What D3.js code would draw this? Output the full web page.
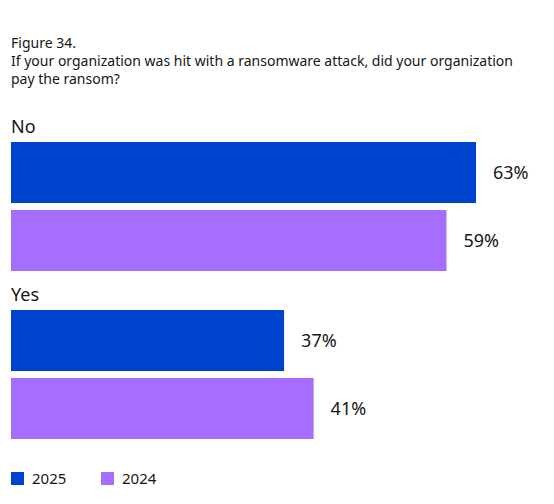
<!DOCTYPE html>
<html>
<head>
<meta charset="utf-8">
<script src="https://cdn.jsdelivr.net/npm/d3@7"></script>
<style>
    body { margin: 0; background: #fff; }
    svg text { font-family: "Noto Sans", sans-serif; fill: #161616; }
</style>
</head>
<body>
<div id="chart"></div>
<script>
// answers and survey years
const categories = ["No", "Yes"];
const series = ["2025", "2024"];
const values2025 = [63, 37];
const values2024 = [59, 41];
const titleLines = [
    "Figure 34.",
    "If your organization was hit with a ransomware attack, did your organization",
    "pay the ransom?"
];

const colors = { "2025": "#0043ce", "2024": "#a56eff" };

const width = 554, height = 504;
const left = 11;

const svg = d3.select("#chart")
    .append("svg")
    .attr("width", width)
    .attr("height", height);

// title
svg.append("g")
    .selectAll("text")
    .data(titleLines)
    .enter()
    .append("text")
    .attr("x", left)
    .attr("y", function (d, i) { return 48 + i * 18; })
    .style("font-size", "14px")
    .text(function (d) { return d; });

// scales
var x = d3.scaleLinear()
    .domain([0, 63])
    .range([0, 465]);

var y0 = d3.scaleBand()
    .domain(categories)
    .range([142, 478]);

var y1 = d3.scaleBand()
    .domain(series)
    .range([0, 129])
    .paddingInner(0.103);

var rows = [];
categories.forEach(function (c, i) {
    rows.push({ cat: c, year: "2025", value: values2025[i] });
    rows.push({ cat: c, year: "2024", value: values2024[i] });
});

// category labels
svg.selectAll(".cat")
    .data(categories)
    .enter()
    .append("text")
    .attr("class", "cat")
    .attr("x", left)
    .attr("y", function (d) { return y0(d) - 9; })
    .style("font-size", "18px")
    .text(function (d) { return d; });

// bars
svg.selectAll(".bar")
    .data(rows)
    .enter()
    .append("rect")
    .attr("class", "bar")
    .attr("x", left)
    .attr("y", function (d) { return y0(d.cat) + y1(d.year); })
    .attr("width", function (d) { return x(d.value); })
    .attr("height", y1.bandwidth())
    .attr("fill", function (d) { return colors[d.year]; });

// value labels
svg.selectAll(".val")
    .data(rows)
    .enter()
    .append("text")
    .attr("class", "val")
    .attr("x", function (d) { return left + x(d.value) + 17; })
    .attr("y", function (d) { return y0(d.cat) + y1(d.year) + y1.bandwidth() / 2; })
    .attr("dy", "0.35em")
    .style("font-size", "18px")
    .text(function (d) { return d.value + "%"; });

// legend
var legend = svg.selectAll(".legend")
    .data(series)
    .enter()
    .append("g")
    .attr("class", "legend")
    .attr("transform", function (d, i) { return "translate(" + (left + i * 90) + ",472)"; });

legend.append("rect")
    .attr("width", 13)
    .attr("height", 13)
    .attr("fill", function (d) { return colors[d]; });

legend.append("text")
    .attr("x", 21)
    .attr("y", 12)
    .style("font-size", "15px")
    .text(function (d) { return d; });
</script>
</body>
</html>
